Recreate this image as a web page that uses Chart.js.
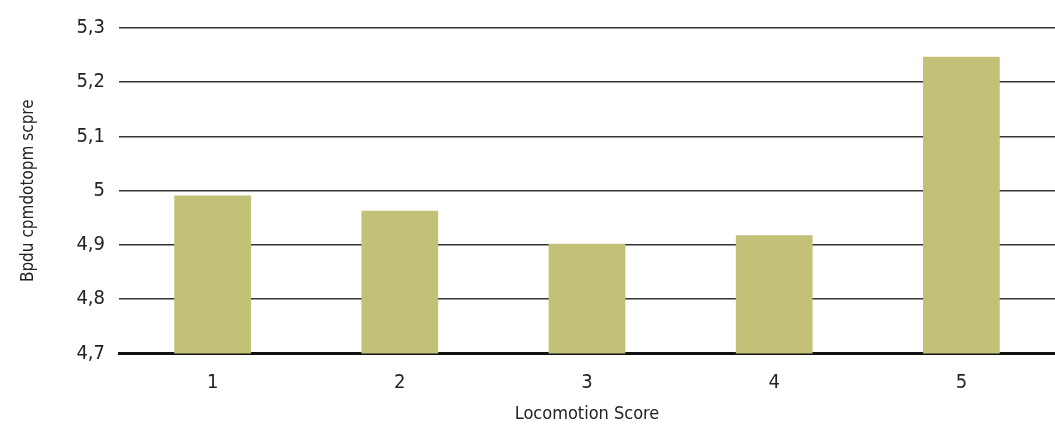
<!DOCTYPE html>
<html>
<head>
<meta charset="utf-8">
<script src="https://cdn.jsdelivr.net/npm/chart.js@4/dist/chart.umd.min.js"></script>
<style>
  html, body { margin: 0; padding: 0; background: #fff; }
  #wrap { width: 1055px; height: 426px; }
</style>
</head>
<body>
<div id="wrap"><canvas id="myChart"></canvas></div>
<script>
const categories = ['1', '2', '3', '4', '5'];
const scores = [4.991, 4.963, 4.902, 4.918, 5.247];
const yTicks = [4.7, 4.8, 4.9, 5.0, 5.1, 5.2, 5.3];

const FONT = '"DejaVu Sans Condensed", "Liberation Sans Narrow", "Roboto", sans-serif';

function fmt(v) {
    return (Math.round(v * 10) / 10).toString().replace('.', ',');
}

const ctx = document.getElementById('myChart');
new Chart(ctx, {
    type: 'bar',
    data: {
        labels: categories,
        datasets: [{
            label: 'score',
            data: scores,
            backgroundColor: '#c2c177',
            borderWidth: 0,
            barPercentage: 0.41,
            categoryPercentage: 1
        }]
    },
    options: {
        responsive: true,
        maintainAspectRatio: false,
        animation: false,
        layout: { padding: { top: 28, right: 0, left: 14, bottom: 0 } },
        plugins: { legend: { display: false }, tooltip: { enabled: false } },
        scales: {
            x: {
                grid: { display: false },
                border: { color: '#111', width: 3 },
                ticks: { color: '#222', font: { family: FONT, size: 20 }, padding: 9 },
                title: {
                    display: true, text: 'Locomotion Score', color: '#222',
                    font: { family: FONT, size: 18 }, padding: { top: 0, bottom: 1 }
                }
            },
            y: {
                min: 4.7,
                max: 5.3,
                afterBuildTicks: function (axis) {
                    axis.ticks = yTicks.map(function (v) { return { value: v }; });
                },
                grid: { color: '#333', lineWidth: 1.5, drawTicks: false },
                border: { display: false },
                ticks: {
                    color: '#222', font: { family: FONT, size: 20 }, padding: 14,
                    callback: function (v) { return fmt(v); }
                },
                title: {
                    display: true, text: 'Bpdu cpmdotopm scpre', color: '#222',
                    font: { family: FONT, size: 17 }, padding: { bottom: 24 }
                }
            }
        }
    }
});
</script>
</body>
</html>
